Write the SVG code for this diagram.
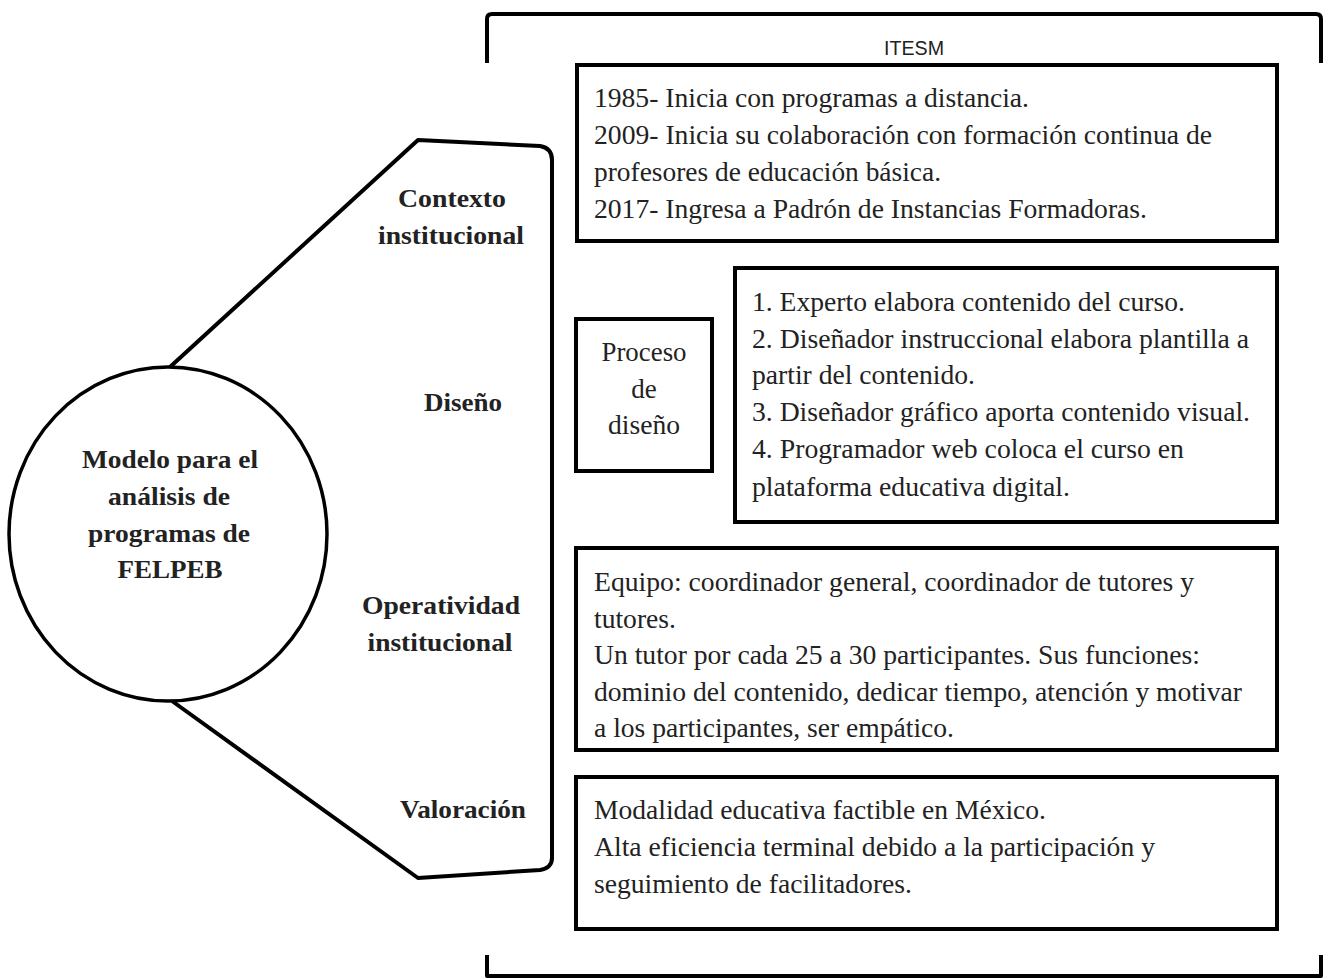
<svg xmlns="http://www.w3.org/2000/svg" width="1331" height="979" viewBox="0 0 1331 979">
<style>
.ln{fill:none;stroke:#000;stroke-width:4;stroke-linejoin:round;stroke-linecap:butt}
.box{fill:#fff;stroke:#000;stroke-width:4}
.t{font-family:'Times New Roman','Liberation Serif',Times,serif;font-size:27px;fill:#222}
.b{font-family:'Times New Roman','Liberation Serif',Times,serif;font-size:26px;font-weight:bold;fill:#222;text-anchor:middle}
.s{font-family:'Liberation Sans',Arial,sans-serif;font-size:20px;fill:#222;text-anchor:middle}
</style>
<rect width="1331" height="979" fill="#fff"/>
<g id="connectors">
<path class="ln" d="M170 367 L418 140 L540 146 Q552 148 552 160 L552 858 Q552 868 540 870 L418 878 L172 701"/>
<path class="ln" d="M487 63 L487 19 Q487 14 492 14 L1316 14 Q1321 14 1321 19 L1321 63"/>
<path class="ln" d="M487 955 L487 976 L1321 976 L1321 955"/>
</g>
<g id="itesm"><text class="s" x="914" y="55" textLength="60" lengthAdjust="spacingAndGlyphs">ITESM</text></g>
<g id="modelo">
<ellipse cx="168" cy="534" rx="159" ry="167" fill="#fff" stroke="#000" stroke-width="3.5"/>
<text class="b" x="170" y="468" textLength="176" lengthAdjust="spacingAndGlyphs">Modelo para el</text>
<text class="b" x="169" y="505" textLength="122" lengthAdjust="spacingAndGlyphs">análisis de</text>
<text class="b" x="169" y="542" textLength="162" lengthAdjust="spacingAndGlyphs">programas de</text>
<text class="b" x="170" y="578" textLength="105" lengthAdjust="spacingAndGlyphs">FELPEB</text>
</g>
<g id="labels">
<text class="b" x="452" y="207" textLength="108" lengthAdjust="spacingAndGlyphs">Contexto</text>
<text class="b" x="451" y="244" textLength="146" lengthAdjust="spacingAndGlyphs">institucional</text>
<text class="b" x="463" y="411" textLength="78" lengthAdjust="spacingAndGlyphs">Diseño</text>
<text class="b" x="441" y="614" textLength="158" lengthAdjust="spacingAndGlyphs">Operatividad</text>
<text class="b" x="440" y="651" textLength="145" lengthAdjust="spacingAndGlyphs">institucional</text>
<text class="b" x="463" y="818" textLength="126" lengthAdjust="spacingAndGlyphs">Valoración</text>
</g>
<g id="box-contexto">
<rect class="box" x="577" y="65" width="700" height="176"/>
<text class="t" x="594" y="107" textLength="435" lengthAdjust="spacingAndGlyphs">1985- Inicia con programas a distancia.</text>
<text class="t" x="594" y="144" textLength="618" lengthAdjust="spacingAndGlyphs">2009- Inicia su colaboración con formación continua de</text>
<text class="t" x="594" y="181" textLength="347" lengthAdjust="spacingAndGlyphs">profesores de educación básica.</text>
<text class="t" x="594" y="218" textLength="553" lengthAdjust="spacingAndGlyphs">2017- Ingresa a Padrón de Instancias Formadoras.</text>
</g>
<g id="box-proceso">
<rect class="box" x="576" y="319" width="136" height="152"/>
<text class="t" x="644" y="361" text-anchor="middle" textLength="85" lengthAdjust="spacingAndGlyphs">Proceso</text>
<text class="t" x="644" y="398" text-anchor="middle">de</text>
<text class="t" x="644" y="434" text-anchor="middle" textLength="72" lengthAdjust="spacingAndGlyphs">diseño</text>
</g>
<g id="box-diseno">
<rect class="box" x="735" y="268" width="542" height="254"/>
<text class="t" x="752" y="311" textLength="433" lengthAdjust="spacingAndGlyphs">1. Experto elabora contenido del curso.</text>
<text class="t" x="752" y="348" textLength="497" lengthAdjust="spacingAndGlyphs">2. Diseñador instruccional elabora plantilla a</text>
<text class="t" x="752" y="384" textLength="223" lengthAdjust="spacingAndGlyphs">partir del contenido.</text>
<text class="t" x="752" y="421" textLength="498" lengthAdjust="spacingAndGlyphs">3. Diseñador gráfico aporta contenido visual.</text>
<text class="t" x="752" y="458" textLength="432" lengthAdjust="spacingAndGlyphs">4. Programador web coloca el curso en</text>
<text class="t" x="752" y="496" textLength="318" lengthAdjust="spacingAndGlyphs">plataforma educativa digital.</text>
</g>
<g id="box-operatividad">
<rect class="box" x="576" y="548" width="701" height="202"/>
<text class="t" x="594" y="591" textLength="600" lengthAdjust="spacingAndGlyphs">Equipo: coordinador general, coordinador de tutores y</text>
<text class="t" x="594" y="628" textLength="82" lengthAdjust="spacingAndGlyphs">tutores.</text>
<text class="t" x="594" y="664" textLength="606" lengthAdjust="spacingAndGlyphs">Un tutor por cada 25 a 30 participantes. Sus funciones:</text>
<text class="t" x="594" y="701" textLength="648" lengthAdjust="spacingAndGlyphs">dominio del contenido, dedicar tiempo, atención y motivar</text>
<text class="t" x="594" y="737" textLength="360" lengthAdjust="spacingAndGlyphs">a los participantes, ser empático.</text>
</g>
<g id="box-valoracion">
<rect class="box" x="576" y="777" width="701" height="152"/>
<text class="t" x="594" y="819" textLength="452" lengthAdjust="spacingAndGlyphs">Modalidad educativa factible en México.</text>
<text class="t" x="594" y="856" textLength="561" lengthAdjust="spacingAndGlyphs">Alta eficiencia terminal debido a la participación y</text>
<text class="t" x="594" y="893" textLength="318" lengthAdjust="spacingAndGlyphs">seguimiento de facilitadores.</text>
</g>
</svg>
